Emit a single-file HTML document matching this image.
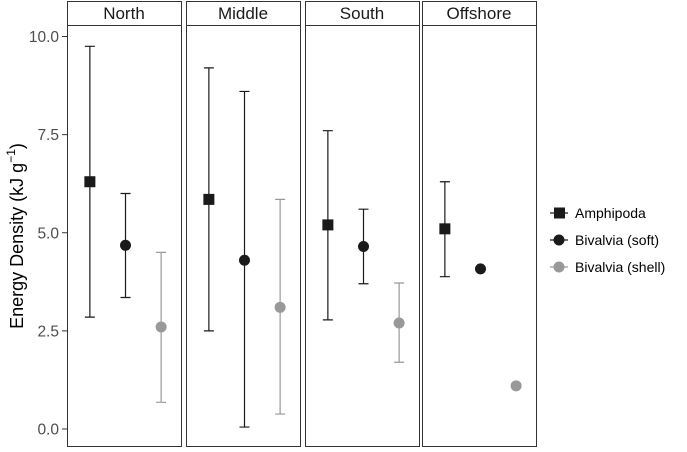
<!DOCTYPE html>
<html><head><meta charset="utf-8"><style>
body{margin:0;background:#fff;font-family:"Liberation Sans",sans-serif}
</style></head><body>
<svg id="c" width="687" height="447" xmlns="http://www.w3.org/2000/svg"></svg>
<script>
const regions=["North","Middle","South","Offshore"];
const groups=["Amphipoda","Bivalvia (soft)","Bivalvia (shell)"];
const meanVals=[[6.3,4.68,2.6],[5.85,4.3,3.1],[5.2,4.65,2.7],[5.1,4.08,1.1]];
const lowVals=[[2.85,3.35,0.68],[2.5,0.05,0.38],[2.78,3.7,1.7],[3.88,null,null]];
const highVals=[[9.75,6.0,4.5],[9.2,8.6,5.85],[7.6,5.6,3.72],[6.3,null,null]];
const yTicks=[0,2.5,5,7.5,10];
const yTickLabels=["0.0","2.5","5.0","7.5","10.0"];
const colors=["#1a1a1a","#1a1a1a","#999999"];
const NS="http://www.w3.org/2000/svg",svg=document.getElementById("c");
function el(t,a,p){const e=document.createElementNS(NS,t);for(const k in a)e.setAttribute(k,a[k]);(p||svg).appendChild(e);return e;}
const panelX=[67,186,305,422],panelW=114,panelTop=25,panelBot=446;
const y=v=>429-v*39.25;
const x=(p,i)=>panelX[p]+1.5+(i+0.6)*panelW/3.2;
yTicks.forEach((t,i)=>{
 const l=el("line",{x1:62,x2:67,y1:y(t),y2:y(t),stroke:"#333"});
 
 
 const tx=el("text",{x:59,y:y(t)+5.5,"text-anchor":"end","font-size":15.5,fill:"#4d4d4d"});
 tx.textContent=yTickLabels[i];
 
 
});
const yt=el("text",{transform:"translate(23,236) rotate(-90)","text-anchor":"middle","font-size":18,fill:"#000"});


yt.innerHTML='Energy Density (kJ g<tspan dy="-8" font-size="12">−1</tspan><tspan dy="8">)</tspan>';
regions.forEach((r,p)=>{
 const g=el("g",{});
 
 
 el("rect",{x:panelX[p]+.5,y:1.5,width:panelW,height:panelTop-1,fill:"#fff",stroke:"#333"},g);
 const st=el("text",{x:panelX[p]+panelW/2,y:19,"text-anchor":"middle","font-size":17,fill:"#1a1a1a"},g);
 st.textContent=r;
 
 
 el("rect",{x:panelX[p]+.5,y:panelTop+.5,width:panelW,height:panelBot-panelTop,fill:"#fff",stroke:"#333"},g);
 groups.forEach((gr,i)=>{
  const cx=x(p,i),c=colors[i];
  if(lowVals[p][i]!=null){
   const eb=el("path",{d:`M${cx-5},${y(highVals[p][i])}H${cx+5}M${cx},${y(highVals[p][i])}V${y(lowVals[p][i])}M${cx-5},${y(lowVals[p][i])}H${cx+5}`,stroke:c,"stroke-width":1.2,fill:"none"},g);
   
   
  }
  let m;
  if(i==0)m=el("rect",{x:cx-5.5,y:y(meanVals[p][i])-5.5,width:11,height:11,fill:c},g);
  else m=el("circle",{cx:cx,cy:y(meanVals[p][i]),r:5.5,fill:c},g);
  
  
 });
});
groups.forEach((gr,i)=>{
 const ly=213+i*27,c=colors[i];
 const g=el("g",{});
 
 
 el("line",{x1:550,x2:568,y1:ly,y2:ly,stroke:c,"stroke-width":1.2},g);
 if(i==0)el("rect",{x:554,y:ly-5.5,width:11,height:11,fill:c},g);
 else el("circle",{cx:559,cy:ly,r:5.5,fill:c},g);
 const t=el("text",{x:575,y:ly+5,"font-size":14,fill:"#000"},g);t.textContent=gr;
});
</script>
</body></html>
